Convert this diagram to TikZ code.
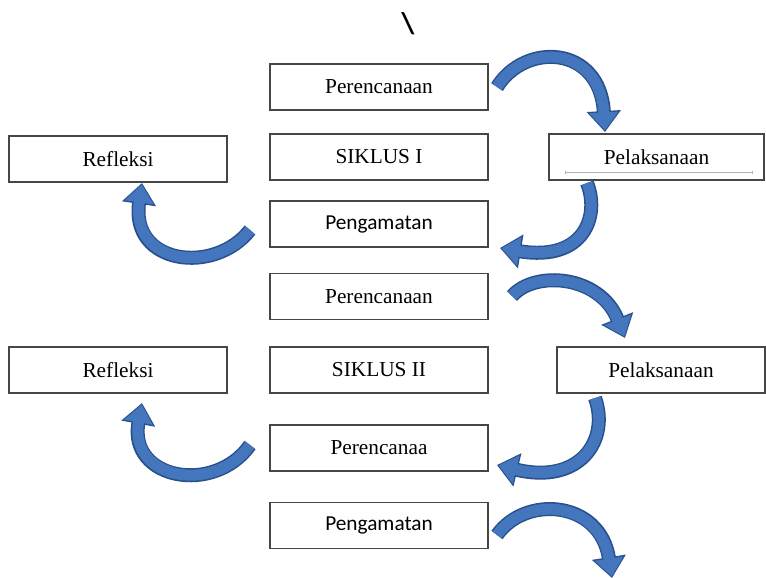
\documentclass[tikz,border=0pt]{standalone}
\usepackage{fontspec}
\setmainfont{Liberation Serif}
\newfontfamily\calib{Carlito}
\usetikzlibrary{arrows.meta}
\definecolor{arrblue}{RGB}{68,118,190}
\definecolor{arredge}{RGB}{40,80,140}
\definecolor{boxline}{RGB}{70,70,70}
\tikzset{
  box/.style={draw=boxline, line width=1.3pt, minimum width=218pt, minimum height=46pt,
    inner sep=0pt, font=\fontsize{21.3}{25}\selectfont},
  sansbox/.style={box, font=\calib\fontsize{21.3}{25}\selectfont},
  arrouter/.style={draw=arredge, line width=14pt,
    -{Triangle[length=21pt,width=33pt]}},
  arrinner/.style={draw=arrblue, line width=11pt, shorten >=1.6pt,
    -{Triangle[length=18pt,width=28pt]}},
}
\newcommand{\bluearrow}[4]{%
  \draw[arrouter] (#1) .. controls (#2) and (#3) .. (#4);
  \draw[arrinner] (#1) .. controls (#2) and (#3) .. (#4);}
\begin{document}
\begin{tikzpicture}[x=1pt,y=-1pt]
\useasboundingbox (0,0) rectangle (766,578);
\node[font=\calib\bfseries\fontsize{30}{34}\selectfont] (bs) at (408,24) {\textbackslash};
% Siklus I
\node[box] (p1) at (379,87) {Perencanaan};
\node[box] (s1) at (379,157) {SIKLUS I};
\node[sansbox] (g1) at (379,224) {Pengamatan};
\node[box] (r1) at (118,159) {Refleksi};
\node[box, minimum width=215pt] (k1) at (656.5,157) {Pelaksanaan};
\draw[gray!60, line width=0.5pt] (565,172) -- (752,172);
\draw[gray!60, line width=0.6pt] (565,170.5) -- (565,173.5) (752,170.5) -- (752,173.5);
% Siklus II
\node[box] (p2) at (379,296.5) {Perencanaan};
\node[box] (s2) at (379,370) {SIKLUS II};
\node[box] (r2) at (118,370) {Refleksi};
\node[box, minimum width=208pt] (k2) at (661,370) {Pelaksanaan};
\node[box] (q2) at (379,448) {Perencanaa};
\node[sansbox] (g2) at (379,525.5) {Pengamatan};
% arrow ends
\coordinate (a1s) at (497,87);   \coordinate (a1e) at (605,132);
\coordinate (a2s) at (587,183);  \coordinate (a2e) at (500,248);
\coordinate (a3s) at (250,230);  \coordinate (a3e) at (142,183);
\coordinate (a4s) at (512,296);  \coordinate (a4e) at (625,338);
\coordinate (a5s) at (595,398);  \coordinate (a5e) at (497,465);
\coordinate (a6s) at (250,445);  \coordinate (a6e) at (142,403);
\coordinate (a7s) at (497,535);  \coordinate (a7e) at (612,578);
\bluearrow{a1s}{525,42}{600,45}{a1e}
\bluearrow{a2s}{600,215}{585,262}{a2e}
\bluearrow{a3s}{215,275}{130,265}{a3e}
\bluearrow{a4s}{535,270}{600,275}{a4e}
\bluearrow{a5s}{610,440}{580,485}{a5e}
\bluearrow{a6s}{215,495}{128,480}{a6e}
\bluearrow{a7s}{525,495}{600,500}{a7e}
\end{tikzpicture}
\end{document}
